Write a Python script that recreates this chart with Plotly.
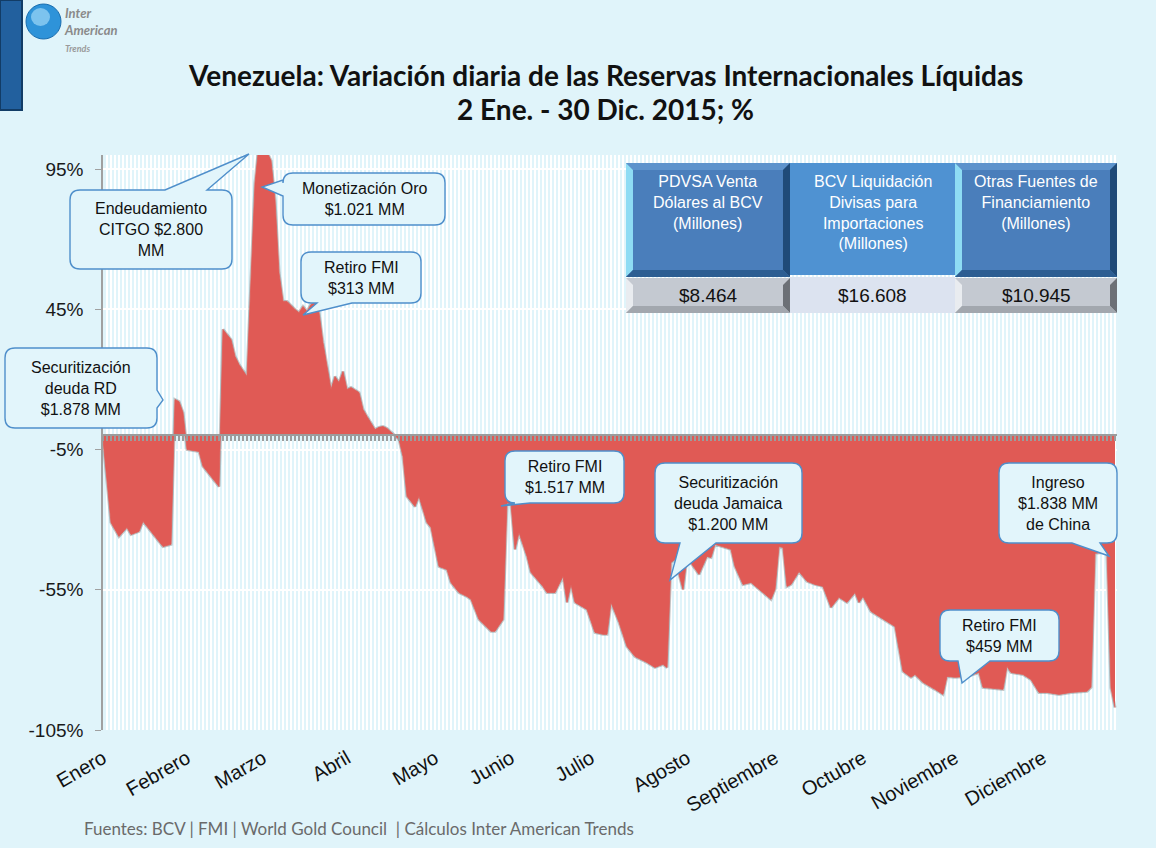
import plotly.graph_objects as go

# ---------------- data ----------------
# trading-day index (0 = 2 Ene 2015) and daily variation of liquid reserves (%)
days = [0, 2, 4, 6, 7, 9, 10, 13, 15, 17,
        18, 19, 20, 21, 24, 25, 27, 29,
        30, 32, 33, 34, 36, 37, 38, 39, 40, 41, 42, 43, 44, 45, 46, 48, 49, 50, 51, 52, 53, 54, 55,
        57, 58, 59, 60, 61, 62, 64, 65, 66, 68, 69, 70, 71, 72, 74,
        75, 76, 78, 79, 81, 82, 84, 86, 87, 89, 91, 92, 94, 97, 98, 100,
        101, 102, 103, 104, 106, 107, 110, 111, 113, 115, 116, 117, 118, 121, 123, 125, 126,
        127, 129, 131, 133, 136, 138, 140, 141,
        142, 143, 145, 146, 149, 151, 152, 153, 157, 158, 160, 162, 164, 167, 168,
        169, 170, 171, 172, 174, 176, 178, 180, 182, 184, 186, 188, 189, 190, 192, 194, 197, 198,
        200, 201, 202, 203, 205, 208, 210, 211, 213, 216, 219, 220, 224, 225,
        226, 227, 230, 232, 234, 236, 239, 242, 246, 247,
        248, 251, 252, 253]
values = [-1.4, -31.0, -36.0, -32.8, -35.3, -34.2, -30.6, -36.0, -39.6, -38.8,
          12.8, 12.1, 8.2, -5.0, -5.7, -11.0, -14.6, -18.2,
          37.8, 34.2, 28.2, 25.3, 21.0, 55.0, 90.0, 104.0, 104.0, 101.0, 98.0, 84.0, 58.0, 47.8, 47.8, 44.9, 43.8, 46.0, 44.2, 46.7, 47.4, 43.8, 33.1,
          16.4, 21.0, 18.9, 22.8, 16.4, 17.1, 15.3, 9.3, 6.8, 2.1, 2.9, 3.2, 2.5, 1.1, -1.4,
          -7.5, -21.7, -25.3, -21.7, -31.0, -32.8, -46.7, -47.8, -52.4, -56.0, -57.4, -58.4, -65.6, -69.8, -69.8, -65.6,
          -24.0, -24.5, -40.6, -34.6, -43.1, -48.8, -53.8, -56.0, -56.0, -50.2, -59.5, -53.1, -59.5, -62.0, -70.2, -70.9, -70.9,
          -59.5, -66.6, -75.2, -78.8, -80.9, -82.7, -81.6, -82.7,
          -45.3, -44.2, -54.9, -43.5, -49.5, -43.1, -43.5, -38.8, -40.6, -46.7, -53.1, -52.4, -54.9, -58.4, -54.9,
          -39.6, -39.9, -53.8, -53.1, -48.5, -52.0, -53.1, -53.8, -61.3, -57.7, -59.5, -56.0, -59.5, -57.4, -62.7, -64.5, -67.4, -68.1,
          -84.1, -85.2, -86.2, -85.2, -88.0, -90.5, -92.3, -85.9, -86.2, -85.9, -84.5, -89.8, -90.5, -90.5,
          -82.3, -84.5, -85.2, -87.0, -91.6, -91.6, -92.3, -91.6, -91.2, -89.8,
          -42.0, -41.5, -90.0, -97.0]

months = ["Enero", "Febrero", "Marzo", "Abril", "Mayo", "Junio", "Julio",
          "Agosto", "Septiembre", "Octubre", "Noviembre", "Diciembre"]
month_start = [0, 21, 40, 61, 83, 102, 122, 146, 168, 190, 213, 235]

y_ticks = [95, 45, -5, -55, -105]
y_ticktext = ["95%", "45%", "-5%", "-55%", "-105%"]

table_headers = ["PDVSA Venta<br>Dólares al BCV<br>(Millones)",
                 "BCV Liquidación<br>Divisas para<br>Importaciones<br>(Millones)",
                 "Otras Fuentes de<br>Financiamiento<br>(Millones)"]
table_values = ["$8.464", "$16.608", "$10.945"]

callout_texts = ["Endeudamiento<br>CITGO $2.800<br>MM",
                 "Monetización Oro<br>$1.021 MM",
                 "Retiro FMI<br>$313 MM",
                 "Securitización<br>deuda RD<br>$1.878 MM",
                 "Retiro FMI<br>$1.517 MM",
                 "Securitización<br>deuda Jamaica<br>$1.200 MM",
                 "Ingreso<br>$1.838 MM<br>de China",
                 "Retiro FMI<br>$459 MM"]

# ---------------- layout geometry ----------------
W, H = 1156, 848
L, R, T, B = 103, 1117, 155, 730
X_RANGE = [0, 253.5]
Y_RANGE = [-105, 100]

BG = "#E0F4FA"
RED = "#E05A55"
BUB_FILL = "#E2F5FB"
BUB_LINE = "#4F8FCB"
ARIAL = "Liberation Sans, Arial, sans-serif"


def P(px, py):
    return (px - L) / (R - L), (B - py) / (B - T)


def pt(px, py):
    x, y = P(px, py)
    return f"{x:.5f},{y:.5f}"


def poly(points):
    return "M" + " L".join(pt(*p) for p in points) + " Z"


def bubble(x0, y0, x1, y1, r, edge, a, b, tip):
    c = ["M" + pt(x0 + r, y0)]
    if edge == "top":
        c += ["L" + pt(a, y0), "L" + pt(*tip), "L" + pt(b, y0)]
    c += ["L" + pt(x1 - r, y0), "Q" + pt(x1, y0) + " " + pt(x1, y0 + r)]
    if edge == "right":
        c += ["L" + pt(x1, a), "L" + pt(*tip), "L" + pt(x1, b)]
    c += ["L" + pt(x1, y1 - r), "Q" + pt(x1, y1) + " " + pt(x1 - r, y1)]
    if edge == "bottom":
        c += ["L" + pt(b, y1), "L" + pt(*tip), "L" + pt(a, y1)]
    c += ["L" + pt(x0 + r, y1), "Q" + pt(x0, y1) + " " + pt(x0, y1 - r)]
    if edge == "left":
        c += ["L" + pt(x0, b), "L" + pt(*tip), "L" + pt(x0, a)]
    c += ["L" + pt(x0, y0 + r), "Q" + pt(x0, y0) + " " + pt(x0 + r, y0), "Z"]
    return " ".join(c)


fig = go.Figure()

# soft shadow under the area edge
fig.add_trace(go.Scatter(x=days, y=values, mode="lines",
                         line=dict(color="rgba(90,90,90,0.35)", width=3),
                         hoverinfo="skip", showlegend=False))
fig.add_trace(go.Scatter(x=days, y=values, mode="lines", fill="tozeroy",
                         fillcolor=RED, line=dict(color=RED, width=0.8),
                         showlegend=False))
# carriers for the extra axes
fig.add_trace(go.Scatter(x=[None], y=[None], xaxis="x2", yaxis="y", showlegend=False, hoverinfo="skip"))
fig.add_trace(go.Scatter(x=[None], y=[None], xaxis="x3", yaxis="y", showlegend=False, hoverinfo="skip"))

zero_pos = (0 - Y_RANGE[0]) / (Y_RANGE[1] - Y_RANGE[0])

fig.update_layout(
    width=W, height=H,
    margin=dict(l=L, r=W - R, t=T, b=H - B),
    paper_bgcolor=BG, plot_bgcolor=BG,
    showlegend=False,
    xaxis=dict(range=X_RANGE, tickmode="linear", tick0=0, dtick=1,
               showgrid=True, gridcolor="white", gridwidth=1.5,
               showticklabels=False, ticks="", zeroline=False, showline=False),
    xaxis2=dict(range=X_RANGE, overlaying="x", anchor="y", side="bottom",
                tickmode="array", tickvals=month_start, ticktext=months,
                tickangle=-30, showgrid=False, zeroline=False, showline=False, ticks="",
                tickfont=dict(family=ARIAL, size=20, color="#111111"),
                ticklabelstandoff=12),
    xaxis3=dict(range=X_RANGE, overlaying="x", anchor="free", position=zero_pos,
                tickmode="linear", tick0=0, dtick=1, ticks="outside", ticklen=5,
                tickwidth=1.5, tickcolor="#9C9C9C", showline=True, linecolor="#9C9C9C",
                linewidth=2, showticklabels=False, showgrid=False, zeroline=False),
    yaxis=dict(range=Y_RANGE, tickmode="array", tickvals=y_ticks, ticktext=y_ticktext,
               showgrid=True, gridcolor="white", gridwidth=2, zeroline=False,
               showline=True, linecolor="#A0A0A0", linewidth=1.5,
               ticks="outside", ticklen=6, tickcolor="#A0A0A0",
               tickfont=dict(family=ARIAL, size=19, color="#1A1A1A"),
               ticklabelstandoff=8),
)

shapes = []
ann = []

# ---------------- callouts ----------------
callout_geo = [
    ((70, 190, 232, 269), ("top", 165, 207, (249, 154))),
    ((283, 173, 445, 225), ("left", 180, 196, (262, 187))),
    ((301, 252, 421, 303), ("bottom", 317, 352, (303, 315))),
    ((5, 348, 157, 428), ("right", 390, 408, (163, 400))),
    ((505, 451, 624, 503), ("bottom", 514, 530, (501, 506))),
    ((655, 463, 802, 543), ("bottom", 680, 716, (670, 580))),
    ((999, 463, 1117, 543), ("bottom", 1072, 1100, (1109, 556))),
    ((940, 610, 1059, 661), ("bottom", 958, 990, (962, 683))),
]
for text, ((x0, y0, x1, y1), (edge, a, b, tip)) in zip(callout_texts, callout_geo):
    shapes.append(dict(type="path", xref="paper", yref="paper",
                       path=bubble(x0, y0, x1, y1, 10, edge, a, b, tip),
                       fillcolor=BUB_FILL, line=dict(color=BUB_LINE, width=1.4)))
    cx, cy = P((x0 + x1) / 2, (y0 + y1) / 2)
    ann.append(dict(x=cx, y=cy, xref="paper", yref="paper", text=text, showarrow=False,
                    xanchor="center", yanchor="middle", align="center",
                    font=dict(family=ARIAL, size=16, color="#111111")))

# ---------------- summary table ----------------
cols = [(626, 790), (790, 955), (955, 1117)]
HT, HB, VB = 163, 277, 313
bev = 7
for i, (x0, x1) in enumerate(cols):
    if i == 1:
        shapes.append(dict(type="path", xref="paper", yref="paper",
                           path=poly([(x0, HT), (x1, HT), (x1, HB - 2), (x0, HB - 2)]),
                           fillcolor="#4F92D2", line=dict(width=0)))
        shapes.append(dict(type="path", xref="paper", yref="paper",
                           path=poly([(x0, HB), (x1, HB), (x1, VB), (x0, VB)]),
                           fillcolor="#DCE3F0", line=dict(width=0)))
    else:
        shapes.append(dict(type="path", xref="paper", yref="paper",
                           path=poly([(x0, HT), (x1, HT), (x1, HB), (x0, HB)]),
                           fillcolor="#4A7EBB", line=dict(width=0)))
        shapes.append(dict(type="path", xref="paper", yref="paper",
                           path=poly([(x0, HT), (x1, HT), (x1 - bev, HT + bev), (x0 + bev, HT + bev)]),
                           fillcolor="#5D93CC", line=dict(width=0)))
        shapes.append(dict(type="path", xref="paper", yref="paper",
                           path=poly([(x0, HT), (x0 + bev, HT + bev), (x0 + bev, HB - bev), (x0, HB)]),
                           fillcolor="#8EDCF4", line=dict(width=0)))
        shapes.append(dict(type="path", xref="paper", yref="paper",
                           path=poly([(x1, HT), (x1, HB), (x1 - bev, HB - bev), (x1 - bev, HT + bev)]),
                           fillcolor="#1F4A78", line=dict(width=0)))
        shapes.append(dict(type="path", xref="paper", yref="paper",
                           path=poly([(x0, HB), (x1, HB), (x1 - bev, HB - bev), (x0 + bev, HB - bev)]),
                           fillcolor="#2D5E92", line=dict(width=0)))
        # value cell
        shapes.append(dict(type="path", xref="paper", yref="paper",
                           path=poly([(x0, HB + 1), (x1, HB + 1), (x1, VB), (x0, VB)]),
                           fillcolor="#C4C9D1", line=dict(width=0)))
        shapes.append(dict(type="path", xref="paper", yref="paper",
                           path=poly([(x0, HB + 1), (x0 + bev, HB + 1 + bev), (x0 + bev, VB - bev), (x0, VB)]),
                           fillcolor="#E9ECF0", line=dict(width=0)))
        shapes.append(dict(type="path", xref="paper", yref="paper",
                           path=poly([(x1, HB + 1), (x1, VB), (x1 - bev, VB - bev), (x1 - bev, HB + 1 + bev)]),
                           fillcolor="#6C7076", line=dict(width=0)))
        shapes.append(dict(type="path", xref="paper", yref="paper",
                           path=poly([(x0, VB), (x1, VB), (x1 - bev, VB - bev), (x0 + bev, VB - bev)]),
                           fillcolor="#A2A7AE", line=dict(width=0)))
    hx, hy = P((x0 + x1) / 2, HT + 8)
    ann.append(dict(x=hx, y=hy, xref="paper", yref="paper", text=table_headers[i],
                    showarrow=False, xanchor="center", yanchor="top", align="center",
                    font=dict(family=ARIAL, size=16, color="white")))
    vx, vy = P((x0 + x1) / 2, (HB + VB) / 2)
    ann.append(dict(x=vx, y=vy, xref="paper", yref="paper", text=table_values[i],
                    showarrow=False, xanchor="center", yanchor="middle",
                    font=dict(family=ARIAL, size=19, color="#111111")))

# ---------------- logo ----------------
shapes.append(dict(type="path", xref="paper", yref="paper",
                   path=poly([(0, 0), (22, 0), (22, 110), (0, 110)]),
                   fillcolor="#22609E", line=dict(color="#123C66", width=2)))
gx0, gy0 = P(26, 4)
gx1, gy1 = P(61, 39)
shapes.append(dict(type="circle", xref="paper", yref="paper", x0=gx0, y0=gy1, x1=gx1, y1=gy0,
                   fillcolor="#2E93D9", line=dict(color="#1A6DAE", width=1)))
hx0, hy0 = P(31, 8)
hx1, hy1 = P(50, 26)
shapes.append(dict(type="circle", xref="paper", yref="paper", x0=hx0, y0=hy1, x1=hx1, y1=hy0,
                   fillcolor="rgba(190,235,255,0.55)", line=dict(width=0)))
lx, ly = P(62, 3)
ann.append(dict(x=lx, y=ly, xref="paper", yref="paper",
                text="Inter<br>American<br><span style='font-size:9px;color:#9A9A9A'>Trends</span>",
                showarrow=False, xanchor="left", yanchor="top", align="left",
                font=dict(family="Lato", size=13, color="#8A8A8A", style="italic", weight="bold")))

# ---------------- titles / footer ----------------
t1x, t1y = P(605, 75)
t2x, t2y = P(605, 109)
ann.append(dict(x=t1x, y=t1y, xref="paper", yref="paper", showarrow=False,
                text="<b>Venezuela: Variación diaria de las Reservas Internacionales Líquidas</b>",
                xanchor="center", yanchor="middle",
                font=dict(family="Lato", size=28, color="#111111")))
ann.append(dict(x=t2x, y=t2y, xref="paper", yref="paper", showarrow=False,
                text="<b>2 Ene. - 30 Dic. 2015; %</b>",
                xanchor="center", yanchor="middle",
                font=dict(family="Lato", size=28, color="#111111")))
fx, fy = P(82, 828)
ann.append(dict(x=fx, y=fy, xref="paper", yref="paper", showarrow=False,
                text="Fuentes: BCV | FMI | World Gold Council  | Cálculos Inter American Trends",
                xanchor="left", yanchor="middle",
                font=dict(family="Lato", size=17, color="#6A6A6A")))

fig.update_layout(shapes=shapes, annotations=ann)
fig.write_html("out.html", config={"displayModeBar": False},
               post_script="document.body.style.margin='0px';document.body.style.overflow='hidden';")
